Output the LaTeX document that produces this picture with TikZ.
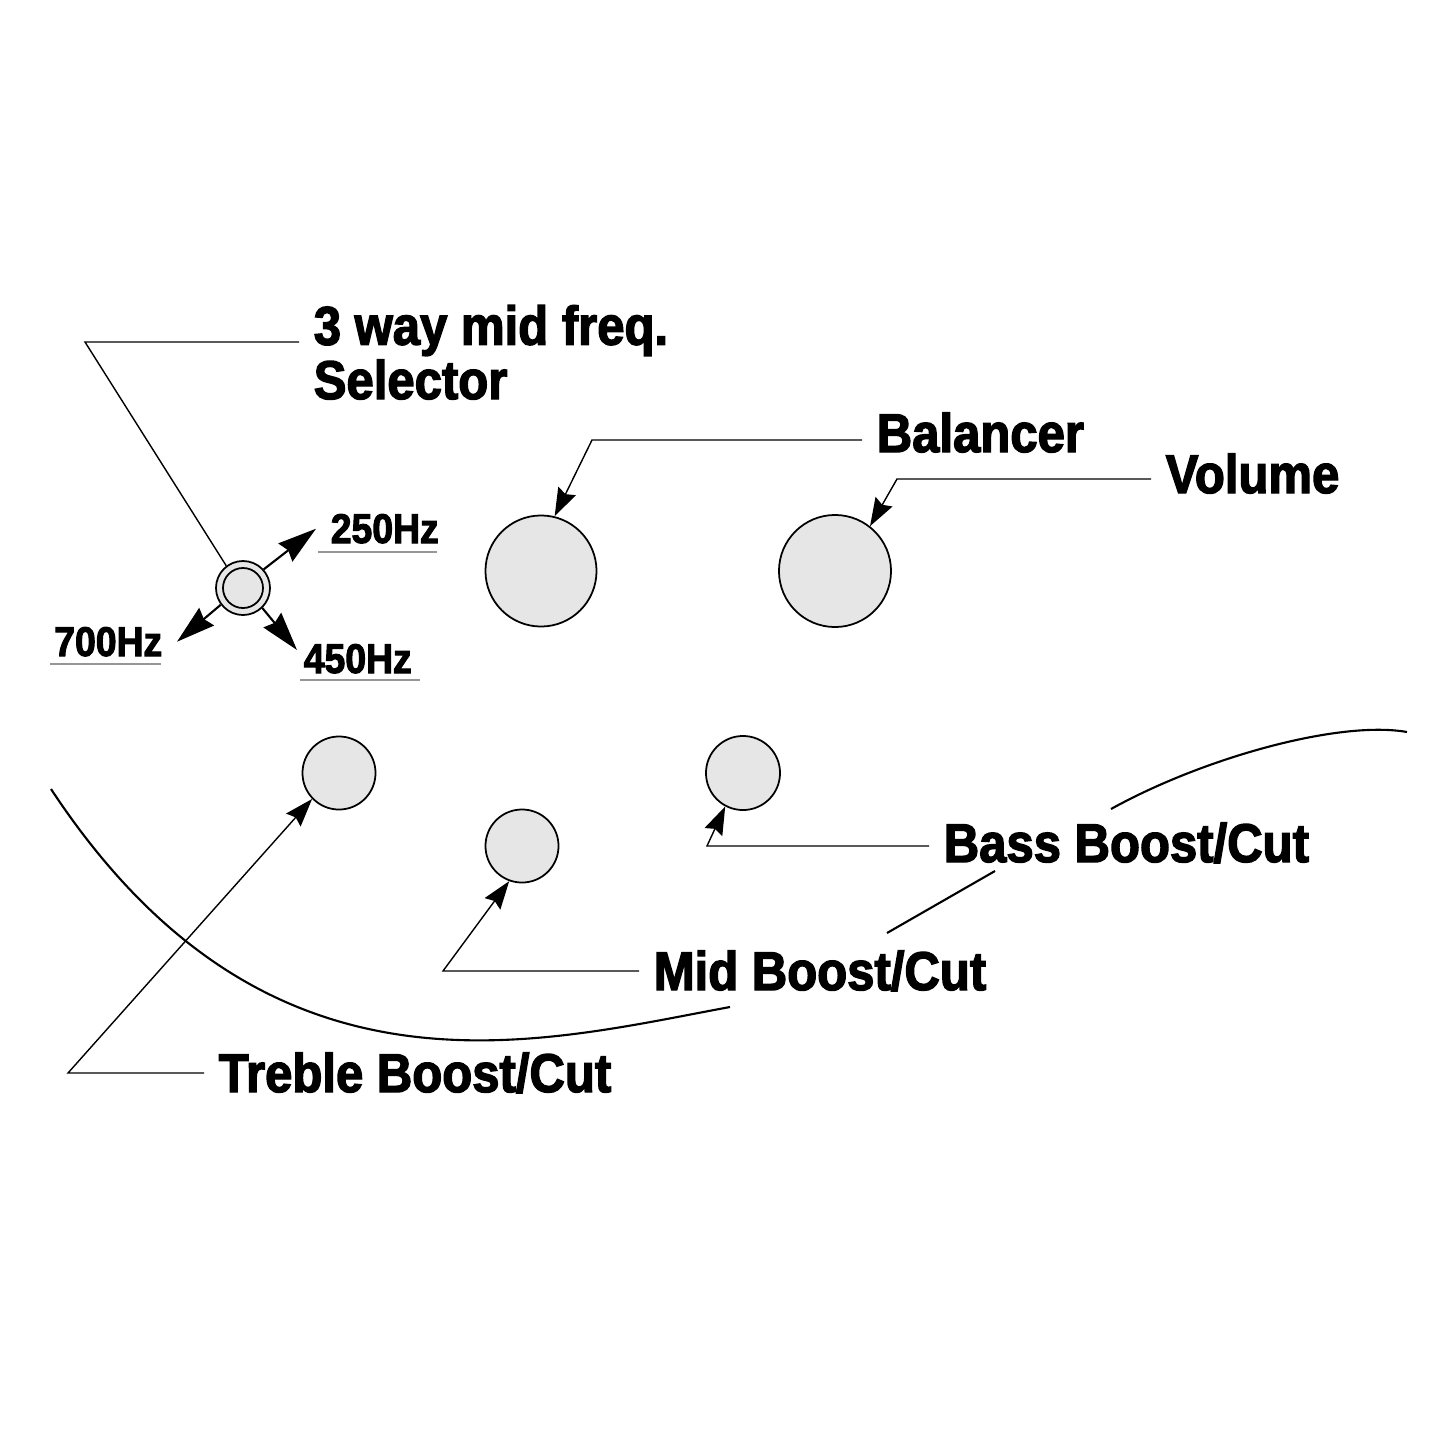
\documentclass[tikz,border=0pt]{standalone}
\usepackage{fontspec}
\newfontfamily\lblfont{Liberation Sans}[FakeStretch=0.9, BoldFeatures={FakeBold=2.5}]
\usetikzlibrary{arrows.meta}
\definecolor{knobgray}{RGB}{230,230,230}
\definecolor{ulgray}{RGB}{150,150,150}

\tikzset{
  knob/.style={circle, draw, line width=0.5pt, fill=knobgray, inner sep=0pt},
  lead/.style={line width=0.4pt},
  leadarrow/.style={line width=0.4pt, -{Stealth[length=8pt,width=5.5pt,inset=1pt]}},
  hzarrow/.style={line width=0.6pt, -{Stealth[length=11pt,width=6.5pt,inset=1pt]}},
  biglabel/.style={font=\lblfont\bfseries\fontsize{15.5}{14.2}\selectfont, inner xsep=4pt, inner ysep=0pt, anchor=base west, align=left},
  hzlabel/.style={font=\lblfont\bfseries\fontsize{11.8}{13}\selectfont, inner xsep=4pt, inner ysep=0pt},
  uline/.style={line width=0.4pt, ulgray},
  body/.style={line width=0.6pt}
}

\begin{document}
\begin{tikzpicture}[x=0.01cm, y=-0.01cm]
\useasboundingbox (0,0) rectangle (1445,1445);

% selector switch
\draw (243,588) node (sel)   [knob, minimum size=0.54cm] {};
\draw (243,588) node (selin) [knob, minimum size=0.40cm] {};

\draw (299,399) node (lsel) [biglabel] {3 way mid freq.\\Selector};
\coordinate (selc) at (85,342);
\draw[lead] (sel.127) -- (selc) -- (lsel.west |- selc);

% switch positions
\draw (316,543) node (l250) [hzlabel, anchor=base west] {250Hz};
\draw (177,656) node (l700) [hzlabel, anchor=base east] {700Hz};
\draw (289,673) node (l450) [hzlabel, anchor=base west] {450Hz};
\coordinate (t450) at (297,650);
\draw[hzarrow] (sel.42) -- (l250.west);
\draw[hzarrow] (sel.217) -- (l700.east);
\draw[hzarrow] (sel.314) -- (t450);
\draw[uline] (318,552) -- (437,552);
\draw[uline] (50,664) -- (161,664);
\draw[uline] (300,680) -- (420,680);

% big knobs
\draw (541,571) node (bal) [knob, minimum size=1.11cm] {};
\draw (835,571) node (vol) [knob, minimum size=1.12cm] {};

\draw (862,452) node (lbal) [biglabel] {Balancer};
\coordinate (balc) at (592,440);
\draw[leadarrow] (lbal.west |- balc) -- (balc) -- (bal.76);

\draw (1151,493) node (lvol) [biglabel] {Volume};
\coordinate (volc) at (897,479);
\draw[leadarrow] (lvol.west |- volc) -- (volc) -- (vol.52);

% small knobs
\draw (339,773) node (tre) [knob, minimum size=0.73cm] {};
\draw (522,846) node (mid) [knob, minimum size=0.73cm] {};
\draw (743,773) node (bas) [knob, minimum size=0.74cm] {};

\draw (204,1092) node (ltre) [biglabel] {Treble Boost/Cut};
\coordinate (trec) at (68,1073);
\draw[leadarrow] (ltre.west |- trec) -- (trec) -- (tre.224);

\draw (639,990) node (lmid) [biglabel] {Mid Boost/Cut};
\coordinate (midc) at (443,971);
\draw[leadarrow] (lmid.west |- midc) -- (midc) -- (mid.250);

\draw (929,862) node (lbas) [biglabel] {Bass Boost/Cut};
\coordinate (basc) at (707,846);
\draw[leadarrow] (lbas.west |- basc) -- (basc) -- (bas.242);

% body outline
\draw[body] (51,789) .. controls (267,1117) and (535,1043) .. (730,1007);
\draw[body] (887,933) -- (995,871);
\draw[body] (1111,809) .. controls (1203,758) and (1339,720) .. (1407,732);
\end{tikzpicture}
\end{document}
